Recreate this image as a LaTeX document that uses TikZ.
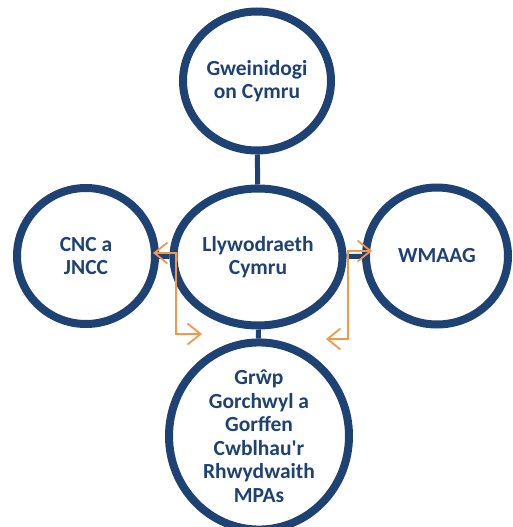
\documentclass[tikz,border=0pt]{standalone}
\usepackage{fontspec}
\setmainfont{Carlito}[Ligatures=TeXOff]
\usetikzlibrary{shapes.geometric,arrows.meta,calc,shadows}

\definecolor{navy}{HTML}{1D4273}
\definecolor{amber}{HTML}{F79646}

\tikzset{
  bubble/.style = {ellipse, draw = navy, line width = 8pt, fill = white,
                   text = navy, align = center, inner sep = 0pt,
                   font = \fontsize{21.5}{23.5}\selectfont\bfseries,
                   drop shadow = {opacity = 0.18, shadow xshift = 3pt, shadow yshift = -3pt}},
  link/.style   = {draw = navy, line width = 5pt},
  flow/.style   = {draw = amber, line width = 1.8pt,
                   {Straight Barb[length=13pt,width=21pt]}-{Straight Barb[length=13pt,width=21pt]}}
}

\begin{document}
\begin{tikzpicture}[x = 1pt, y = -1pt]
  \useasboundingbox (0,0) rectangle (512,527);

  \node[bubble, minimum width = 169pt, minimum height = 137pt] (ll) at (258,257) {Llywodraeth\\Cymru};
  \node[bubble, minimum width = 148pt, minimum height = 139pt] (gw) at ($(ll)+(-1,-176)$) {Gweinidogi\\on Cymru};
  \node[bubble, minimum width = 138pt, minimum height = 136pt] (cnc) at ($(ll)+(-172,-1)$) {CNC a\\JNCC};
  \node[bubble, minimum width = 142pt, minimum height = 137pt] (wm) at ($(ll)+(179,-1)$) {WMAAG};
  \node[bubble, minimum width = 180pt, minimum height = 164pt] (grp) at ($(ll)+(1,179)$)
    {Grŵp\\Gorchwyl a\\Gorffen\\Cwblhau'r\\Rhwydwaith\\MPAs};

  \draw[link] (gw) -- (ll);
  \draw[link] (ll) -- (grp);
  \draw[link] (ll) -- (cnc);
  \draw[link] (ll) -- (wm);

  % two-way elbows
  \coordinate (la) at (153,253);
  \coordinate (lb) at (202,334);
  \coordinate (ra) at (372,251);
  \coordinate (rb) at (326,339);
  \draw[flow] (la) -- ++(23,0) |- (lb);
  \draw[flow] (rb) -- ++(22,0) |- (ra);
\end{tikzpicture}
\end{document}
